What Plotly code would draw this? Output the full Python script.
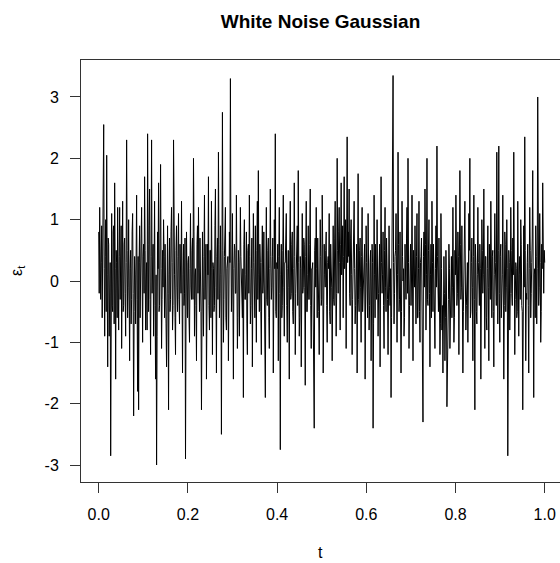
import numpy as np
import plotly.graph_objects as go

# Simulated Gaussian white noise, one observation per step
eps = [
    0.8, -0.2, 1.2, 0.5, -0.3, 0.3, 0.9, -0.6, 0.4, 1.1, 2.55, 0.2, -0.9, 0.4, 1.0, -0.5, 2.05, 0.1, -1.4, 0.7,
    0.6, -0.9, -0.2, 0.3, -2.85, -0.1, 1.1, -0.4, -0.5, 0.8, 0.9, -0.7, 1.6, 0.2, -1.6, 0.5, 0.3, -0.6, 1.2, 0.0,
    -0.8, 0.4, 1.2, -0.3, 0.1, 0.9, -1.1, 0.2, 1.3, -0.5, -0.4, 0.6, 0.7, -0.2, -0.9, 0.3, 2.3, 0.5, -0.6, -0.1,
    1.0, -0.4, -1.3, 0.2, 0.5, -0.7, -0.3, 0.8, 1.1, -0.2, -2.2, -0.5, 0.4, 0.1, -0.7, 0.6, 1.4, -0.3, -1.8, 0.4,
    -2.1, 0.3, 0.9, -0.6, -0.2, 0.7, 1.2, -0.1, -1.0, 0.4, 0.6, -0.2, 1.7, 0.5, -0.8, 0.0, 0.3, -0.8, 2.4, 0.6,
    -0.5, 0.9, 1.5, -0.3, -1.2, 0.4, 2.3, -0.2, 0.2, 0.6, -0.9, 0.3, 1.3, -0.4, -1.6, 0.1, -3.0, -0.9, 0.8, 0.2,
    1.6, -0.5, -0.4, 0.7, 1.9, 0.2, -1.1, -0.3, 0.5, -0.1, 1.0, 0.4, -0.6, 0.6, 0.2, -0.7, -1.4, 0.3, 0.9, -0.2,
    -2.1, 0.1, 0.7, -0.5, -0.3, 0.8, 1.2, 0.3, -0.8, -0.4, 2.3, 0.2, 0.1, -0.6, -1.2, 0.5, 0.9, -0.1, -0.5, 0.4,
    1.1, -0.3, -0.7, 0.6, 0.3, -0.2, 1.3, -0.5, -1.5, 0.1, 0.6, -0.4, -0.2, 0.7, -2.9, -0.6, 0.8, 0.0, -0.6, 0.3,
    0.4, -0.6, -1.0, 0.2, 1.1, -0.1, -0.3, 0.5, 0.7, -0.3, 2.0, 0.8, -0.9, 0.1, 0.2, -0.4, -1.3, 0.6, 0.9, -0.2,
    1.2, 0.2, -0.5, 0.7, 0.3, -0.5, -2.1, 0.3, 0.8, -0.1, -0.9, 0.4, 1.4, -0.3, 0.0, 0.6, -1.6, -0.2, 0.6, 0.1,
    1.7, -0.4, -0.8, 0.5, 0.5, -0.6, 1.3, 0.2, -1.2, 0.3, 0.2, -0.5, -0.4, 0.9, 1.5, -0.1, -1.5, 0.4, 0.7, -0.3,
    2.1, 0.6, -0.6, -0.2, 0.9, 0.1, -2.5, -0.4, 2.75, 0.5, -1.0, -0.3, 0.4, 0.7, 1.2, -0.6, -0.8, 0.2, 0.3, 0.4,
    -1.3, -0.5, 0.8, 0.3, 3.3, 0.6, -0.5, -0.1, 1.1, -0.4, -1.6, 0.2, 0.6, 0.5, -0.2, -0.2, 1.4, 0.1, -1.1, -0.6,
    0.5, 0.3, -0.9, -0.1, 1.2, 0.4, 0.1, -0.5, -0.6, 0.2, -1.9, 0.6, 1.0, -0.3, -0.3, 0.1, 0.8, -0.7, -1.2, 0.5,
    0.6, -0.2, 1.4, 0.4, -0.7, -0.4, 0.2, 0.7, -1.4, -0.1, 1.1, 0.3, -0.2, -0.6, 0.9, 0.2, -1.0, 0.5, 1.3, -0.3,
    1.8, 0.1, -0.5, 0.6, 0.3, -0.5, -1.2, 0.3, 0.9, -0.2, 0.0, 0.8, -0.8, -0.4, -1.9, 0.0, 1.2, -0.3, -0.4, 0.5,
    0.7, -0.6, -1.1, 0.2, 1.5, 0.4, -0.3, -0.1, 0.4, 0.7, -1.5, -0.3, 1.0, 0.2, 2.4, -0.5, -0.6, 0.3, 0.2, 0.6,
    -1.3, 0.4, 1.2, -0.2, -2.75, 0.1, 0.6, -0.6, -0.4, 0.5, 1.4, -0.1, -0.9, 0.3, 0.3, 0.7, 1.1, -0.4, -1.0, 0.2,
    0.5, -0.1, -1.6, 0.5, 1.3, -0.3, -0.2, 0.6, 0.8, -0.5, -0.7, 0.2, 1.6, 0.4, -1.2, -0.2, 0.1, 0.8, 0.9, -0.4,
    1.8, 0.3, -0.9, -0.6, 0.4, 0.2, -1.4, 0.5, 1.1, -0.2, -0.1, 0.7, 0.6, -0.1, -1.7, 0.4, 1.3, -0.5, -0.5, 0.1,
    0.9, -0.3, -0.3, 0.6, 1.5, -0.4, -1.1, 0.2, 0.2, 0.3, -0.8, -0.6, -2.4, 0.5, 0.7, -0.1, 1.2, 0.2, -0.6, 0.7,
    0.3, -0.5, -1.2, 0.1, 1.0, 0.4, -0.4, -0.3, 1.4, 0.6, -1.5, -0.2, 0.6, 0.1, -0.1, 0.5, 0.8, -0.4, -1.0, 0.3,
    0.4, 0.2, 1.1, -0.5, -0.7, 0.6, 0.2, -0.1, -1.3, 0.4, 0.9, -0.3, -0.4, 0.7, 1.3, 0.0, -0.9, -0.2, 2.0, 0.5,
    -0.2, 0.8, 1.2, 0.3, -0.8, 0.6, 1.6, 0.1, 0.3, 0.9, -0.6, 0.4, 1.7, 0.2, 0.5, 1.0, -1.1, 0.5, 2.35, 0.3,
    0.8, 0.4, 1.5, -0.2, -0.4, 0.7, 1.0, 0.1, -1.2, -0.3, 0.6, 0.5, 1.3, 0.2, -0.7, -0.4, 0.1, 0.6, -1.5, 0.0,
    1.75, -0.3, -0.5, 0.5, 0.7, -0.1, -1.0, 0.4, 1.2, -0.5, -0.3, 0.2, 0.4, 0.6, -1.6, -0.2, 0.9, 0.3, -0.2, -0.6,
    1.1, 0.2, -0.8, -0.4, 0.3, 0.5, -1.3, -0.1, 0.6, 0.3, -2.4, -0.7, 1.4, 0.1, -0.6, 0.6, 0.2, -0.3, 1.0, 0.4,
    -0.9, -0.2, 0.5, 0.6, -1.4, -0.5, 1.7, 0.3, -0.2, 0.1, 0.8, -0.4, -1.1, 0.5, 1.2, -0.1, -0.5, 0.7, 0.3, -0.3,
    -1.2, 0.4, 0.9, -0.1, -0.4, 0.2, -1.9, -0.6, 1.5, 0.8, 3.35, 0.3, -0.7, -0.2, 0.4, 0.5, 1.1, -0.4, -1.0, 0.1,
    2.1, 0.6, -0.5, -0.3, 0.8, 0.1, -1.5, -0.5, 1.3, 0.4, 0.0, 0.2, -0.9, -0.6, 0.6, 0.3, -0.3, 0.7, 1.2, -0.2,
    2.0, 0.3, -1.1, -0.4, 0.5, 0.6, -0.4, 0.0, 1.4, -0.3, -1.3, 0.5, 0.2, -0.1, 0.9, 0.2, -0.7, 0.4, 1.1, -0.6,
    -0.6, 0.2, 1.3, -0.5, -1.0, 0.3, 0.4, 0.7, -0.2, -0.2, -2.3, 0.4, 0.8, -0.1, 1.5, 0.6, -0.8, 0.1, 2.0, -0.3,
    -0.4, 0.5, 1.0, -0.2, -1.4, 0.1, 0.6, -0.6, 1.3, 0.3, -0.5, 0.6, 0.2, -0.4, -1.1, 0.2, 0.9, -0.1, 2.2, 0.4,
    -0.3, -0.5, 0.7, -0.1, -1.2, -0.7, 1.1, 0.2, -0.8, -0.4, -1.5, -0.8, 0.4, -0.2, -1.3, -0.6, 0.5, 0.0, -2.05, -0.9,
    -0.9, -0.3, 0.6, 0.2, -1.1, -0.5, 0.3, 0.4, -0.6, -0.1, 1.2, 0.3, -1.0, -0.6, 0.5, 0.1, 1.4, 0.5, -0.4, -0.2,
    0.8, 0.4, -1.2, -0.3, 1.8, 0.6, -0.3, -0.1, 0.9, 0.2, -1.5, -0.5, 0.4, 0.7, 1.3, 0.0, -0.8, -0.4, 0.2, 0.3,
    -1.0, -0.2, 1.1, 0.5, 2.0, -0.6, -0.5, 0.3, 0.7, -0.1, -1.3, 0.4, 1.4, -0.3, -2.1, 0.6, 0.3, -0.5, -0.7, 0.1,
    1.2, 0.3, -0.4, -0.4, 0.6, 0.2, -1.6, -0.7, 1.0, 0.5, -0.2, 0.1, 1.5, -0.2, -1.1, 0.4, 0.4, -0.6, -0.8, 0.2,
    0.9, -0.1, -1.3, 0.6, 0.2, -0.3, 1.3, 0.2, -0.6, 0.4, 0.5, -0.5, -1.4, 0.1, 1.1, 0.3, -0.1, -0.4, 2.1, 0.7,
    -0.7, 0.5, 2.2, -0.2, -1.0, 0.4, 0.6, -0.6, -0.3, 0.1, 1.4, 0.3, -1.6, -0.4, 0.8, 0.6, -0.5, -0.1, 1.0, 0.2,
    -2.85, -0.6, 0.5, 0.3, -0.8, -0.2, 1.2, 0.5, -0.2, -0.4, 0.7, 0.1, 2.1, 0.6, -1.2, -0.3, 0.3, 0.2, -0.6, -0.5,
    1.3, 0.4, -0.9, 0.1, 0.4, -0.3, 1.0, 0.6, -0.4, -0.5, -2.1, 0.2, 0.9, -0.1, 2.35, 0.5, -1.3, -0.2, -0.3, 0.3,
    0.6, -0.4, -1.5, 0.2, 1.2, 0.5, -0.6, -0.2, 0.3, 0.7, 1.8, -0.3, -1.9, 0.1, 0.2, -0.6, 0.9, 0.4, -0.7, 0.2,
    3.0, 0.6, -0.4, -0.1, 1.1, 0.3, -1.0, -0.5, 0.6, 0.2, 1.6, 0.4, -0.2, 0.5, 0.3,
]
t = np.linspace(0.0, 1.0, len(eps))

x_ticks = [0.0, 0.2, 0.4, 0.6, 0.8, 1.0]
x_tick_labels = ["0.0", "0.2", "0.4", "0.6", "0.8", "1.0"]
y_ticks = [-3, -2, -1, 0, 1, 2, 3]
y_tick_labels = ["-3", "-2", "-1", "0", "1", "2", "3"]

FONT = "Liberation Sans, Arial, sans-serif"
FRAME = "#333333"

fig = go.Figure(
    go.Scatter(
        x=t, y=eps, mode="lines",
        line=dict(color="black", width=1),
        hoverinfo="skip", showlegend=False,
    )
)

fig.update_layout(
    width=560, height=563,
    margin=dict(l=81, r=0, t=60, b=81),
    paper_bgcolor="white", plot_bgcolor="white",
    font=dict(family=FONT, size=16, color="black"),
    title=dict(
        text="<b>White Noise Gaussian</b>",
        font=dict(family=FONT, size=19, color="black"),
        x=(81 + 560) / 2 / 560, xanchor="center",
        y=1 - 21 / 563, yanchor="middle",
    ),
    showlegend=False,
)

fig.update_xaxes(
    range=[-0.0397, -0.0397 + 479 / 446],
    tickvals=x_ticks, ticktext=x_tick_labels,
    ticks="outside", ticklen=10, tickcolor=FRAME, tickwidth=1,
    ticklabelstandoff=8,
    showgrid=False, zeroline=False,
    showline=True, linecolor=FRAME, linewidth=1, mirror=True,
)
fig.update_yaxes(
    range=[-3.277, 3.603],
    tickvals=y_ticks, ticktext=y_tick_labels,
    ticks="outside", ticklen=10, tickcolor=FRAME, tickwidth=1,
    ticklabelstandoff=8,
    showgrid=False, zeroline=False,
    showline=True, linecolor=FRAME, linewidth=1,
)

# Axis titles placed like base-graphics labels
fig.add_annotation(
    text="t", xref="paper", yref="paper",
    x=0.5, y=-70 / 422, xanchor="center", yanchor="middle",
    showarrow=False, font=dict(family=FONT, size=16, color="black"),
)
fig.add_annotation(
    text="ε<sub>t</sub>", xref="paper", yref="paper",
    x=-64 / 479, y=0.5, xanchor="center", yanchor="middle",
    textangle=-90, showarrow=False,
    font=dict(family=FONT, size=16, color="black"),
)

fig.write_html("out.html")
